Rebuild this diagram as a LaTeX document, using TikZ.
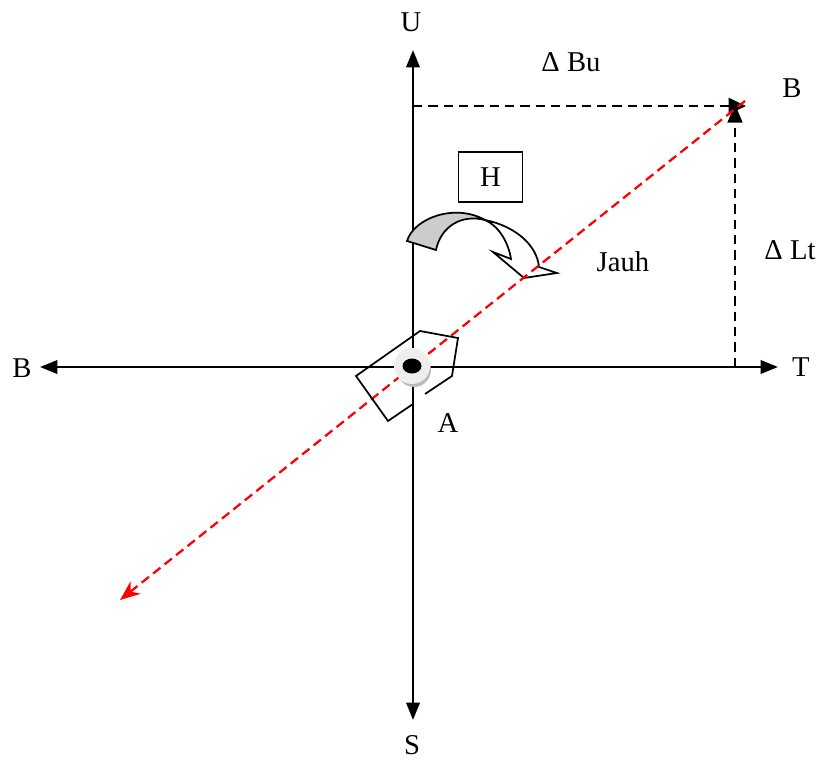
\documentclass[tikz,border=0pt]{standalone}
\usepackage{xcolor}
\usepackage{fontspec}
\setmainfont{Liberation Serif}
\usetikzlibrary{arrows.meta}
\definecolor{routered}{HTML}{FF0000}
\definecolor{arcgray}{HTML}{CCCCCC}
\definecolor{ringgray}{HTML}{EEEEEE}
\definecolor{shadowgray}{HTML}{BBBBBB}
\tikzset{
  axisline/.style={draw=black, line width=1.9pt, {Triangle[length=13pt,width=10pt]}-{Triangle[length=13pt,width=10pt]}},
  guideline/.style={draw=black, line width=1.9pt, dash pattern=on 7pt off 4.5pt},
  routeline/.style={draw=routered, line width=1.7pt, dash pattern=on 7pt off 4pt},
  thinline/.style={draw=black, line width=1.3pt, line join=miter},
  label/.style={inner sep=0pt, font=\fontsize{21.5}{24}\selectfont}
}
\begin{document}
\begin{tikzpicture}[x=0.75pt, y=-0.75pt]
    \useasboundingbox (0,0) rectangle (819,760);
    % text round the axes
    \node[label] (north) at (411,22) {U};
    \node[label] (south) at (412,745) {S};
    \node[label] (west) at (22,368) {B};
    \node[label] (east) at (801,367) {T};
    \node[label] (target) at (792,88) {B};
    \node[label] (deltabu) at (571,62) {Δ Bu};
    \node[label] (deltalt) at (790,250) {Δ Lt};
    \node[label] (jauh) at (623,262) {Jauh};
    \node[label] (start) at (448,423) {A};
    \node[label, draw=black, line width=1.3pt, minimum width=48pt, minimum height=38pt] (heading) at (490.5,177) {H};

    \coordinate (ntip) at (413,50);
    \coordinate (stip) at (413,720);
    \coordinate (wtip) at (40,367);
    \coordinate (etip) at (778,367);
    \coordinate (nfoot) at (413,106);
    \coordinate (efoot) at (735,367);
    \coordinate (corner) at (746,106);
    \coordinate (cornertop) at (735,104);
    \coordinate (routetop) at (745,101);
    \coordinate (routeend) at (120,600);

    \draw[axisline] (stip) -- (ntip);
    \draw[axisline] (wtip) -- (etip);
    \draw[guideline, -{Triangle[length=13pt,width=12pt]}] (nfoot) -- (corner);
    \draw[guideline, -{Triangle[length=14pt,width=11pt]}] (efoot) -- (cornertop);

    % curved arrow
    \draw[thinline, fill=arcgray] (407,241) .. controls (414,218) and (455,203) .. (485,220)
        .. controls (462,214) and (441,226) .. (436,250) -- cycle;
    \draw[thinline, fill=white] (485,220) .. controls (515,226) and (537,245) .. (539,267)
        -- (557,273) -- (524,278) -- (493,252) -- (511,259)
        .. controls (508,240) and (497,225) .. (485,220) -- cycle;

    \draw[routeline, -{Stealth[length=15pt,width=12pt]}] (routetop) -- (routeend);

    % ship
    \draw[thinline] (413,404) -- (388,421) -- (356,376) -- (420,331) -- (458,338) -- (452,376) -- (425,394);

    \fill[shadowgray] (414,370) circle (17);
    \fill[ringgray] (412,366) circle (18);
    \fill[black] (412,366) ellipse (9.5 and 7.5);
\end{tikzpicture}
\end{document}
